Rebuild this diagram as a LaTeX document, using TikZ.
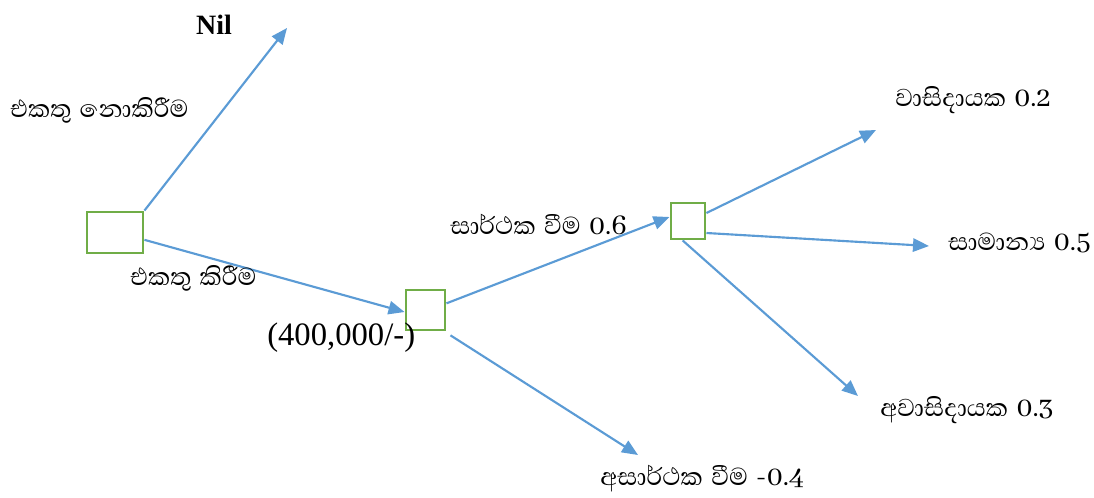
\documentclass[tikz,border=0pt]{standalone}
\usepackage{fontspec}
\setmainfont{Liberation Serif}
\newfontfamily\sinfont[Script=Sinhala,WordSpace=1.4]{Abhaya Libre}
\usetikzlibrary{arrows.meta}
\definecolor{arrblue}{HTML}{5B9BD5}
\definecolor{boxgreen}{HTML}{70AD47}
\tikzset{
  decbox/.style={draw=boxgreen, line width=2.2pt, minimum width=#1, inner sep=0pt},
  conn/.style={draw=arrblue, line width=1.6pt, -{Triangle[length=12pt,width=10pt]}},
  lbl/.style={font=\sinfont\fontsize{23.5}{26}\selectfont, inner sep=0pt, anchor=west},
}
\begin{document}
\begin{tikzpicture}[x=0.75pt,y=-0.75pt]
\useasboundingbox (0,0) rectangle (1094,497);
% boxes
\node[decbox=42pt, minimum height=30.75pt] (b1) at (115,232.5) {};
\node[decbox=29.25pt, minimum height=30pt] (b2) at (425.5,310) {};
\node[decbox=25.5pt, minimum height=27pt] (b3) at (688,221) {};
% arrow ends
\coordinate (nilend) at (287,28);
\coordinate (failend) at (638,455);
\coordinate (goodend) at (876,130);
\coordinate (normend) at (929,246);
\coordinate (badend) at (858,396);
% connectors
\draw[conn] (b1.north east) -- (nilend);
\draw[conn] ([yshift=-5.5pt]b1.east) -- ([yshift=-1.5pt]b2.west);
\draw[conn] ([yshift=5pt]b2.east) -- ([yshift=3pt]b3.west);
\draw[conn] ([xshift=3pt,yshift=-19pt]b2.east) -- (failend);
\draw[conn] ([yshift=6pt]b3.east) -- (goodend);
\draw[conn] ([yshift=-9pt]b3.east) -- (normend);
\draw[conn] ([xshift=-4pt]b3.south) -- (badend);
% labels
\node[font=\bfseries\fontsize{21}{23}\selectfont, inner sep=0pt] (nil) at (214,25) {Nil};
\node[lbl] (l1) at (10,110) {එකතු නොකිරීම};
\node[lbl] (l2) at (130,278) {එකතු කිරීම};
\node[font=\fontsize{24.5}{26}\selectfont, inner sep=0pt, anchor=west] (l3) at (267,338) {(400,000/-)};
\node[lbl] (l4) at (450,224) {සාර්ථක වීම 0.6};
\node[lbl] (l5) at (895,100) {වාසිදායක 0.2};
\node[lbl] (l6) at (948,243) {සාමාන්^^^^200dය 0.5};
\node[lbl] (l7) at (880,410) {අවාසිදායක 0.3};
\node[lbl] (l8) at (600,479) {අසාර්ථක වීම -0.4};
\end{tikzpicture}
\end{document}
